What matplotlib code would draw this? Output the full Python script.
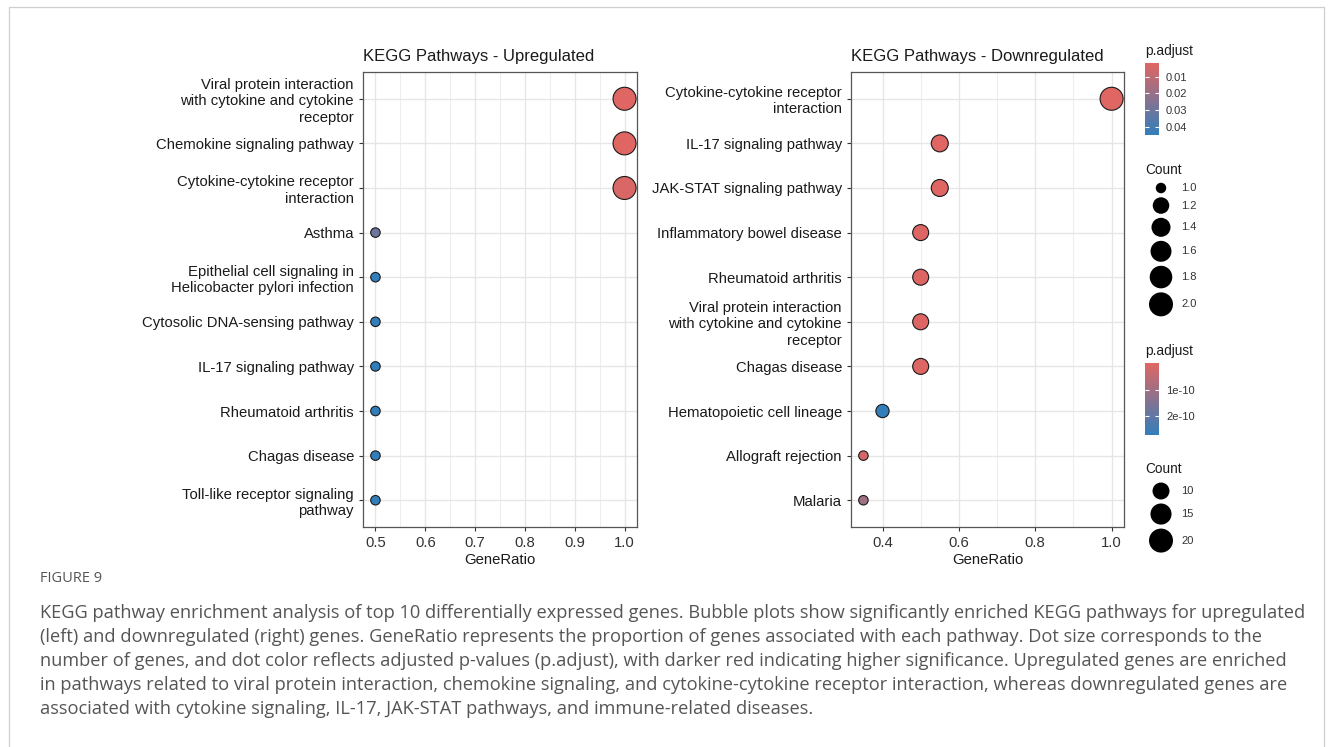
import matplotlib.pyplot as plt
import matplotlib.colors as mcolors
import matplotlib.cm as cm
import numpy as np

# Upregulated pathways (top to bottom)
up_terms = ["Viral protein interaction\nwith cytokine and cytokine\nreceptor",
            "Chemokine signaling pathway",
            "Cytokine-cytokine receptor\ninteraction",
            "Asthma",
            "Epithelial cell signaling in\nHelicobacter pylori infection",
            "Cytosolic DNA-sensing pathway",
            "IL-17 signaling pathway",
            "Rheumatoid arthritis",
            "Chagas disease",
            "Toll-like receptor signaling\npathway"]
up_ratio = [1.0, 1.0, 1.0, 0.5, 0.5, 0.5, 0.5, 0.5, 0.5, 0.5]
up_count = [2, 2, 2, 1, 1, 1, 1, 1, 1, 1]
up_padj = [0.0018, 0.0018, 0.0035, 0.030, 0.045, 0.045, 0.045, 0.045, 0.045, 0.045]

# Downregulated pathways (top to bottom)
down_terms = ["Cytokine-cytokine receptor\ninteraction",
              "IL-17 signaling pathway",
              "JAK-STAT signaling pathway",
              "Inflammatory bowel disease",
              "Rheumatoid arthritis",
              "Viral protein interaction\nwith cytokine and cytokine\nreceptor",
              "Chagas disease",
              "Hematopoietic cell lineage",
              "Allograft rejection",
              "Malaria"]
down_ratio = [1.0, 0.55, 0.55, 0.5, 0.5, 0.5, 0.5, 0.4, 0.35, 0.35]
down_count = [20, 11, 11, 10, 10, 10, 10, 8, 7, 7]
down_padj = [1e-13, 2e-12, 2e-12, 5e-12, 5e-12, 5e-12, 5e-12, 2.7e-10, 2e-11, 1.0e-10]

up_cbar_ticks = [0.01, 0.02, 0.03, 0.04]
up_cbar_labels = ["0.01", "0.02", "0.03", "0.04"]
down_cbar_ticks = [1e-10, 2e-10]
down_cbar_labels = ["1e-10", "2e-10"]
up_count_keys = [1.0, 1.2, 1.4, 1.6, 1.8, 2.0]
down_count_keys = [10, 15, 20]

caption_head = "FIGURE 9"
caption_lines = [
    "KEGG pathway enrichment analysis of top 10 differentially expressed genes. Bubble plots show significantly enriched KEGG pathways for upregulated",
    "(left) and downregulated (right) genes. GeneRatio represents the proportion of genes associated with each pathway. Dot size corresponds to the",
    "number of genes, and dot color reflects adjusted p-values (p.adjust), with darker red indicating higher significance. Upregulated genes are enriched",
    "in pathways related to viral protein interaction, chemokine signaling, and cytokine-cytokine receptor interaction, whereas downregulated genes are",
    "associated with cytokine signaling, IL-17, JAK-STAT pathways, and immune-related diseases.",
]

W, H = 1333, 747
DPI = 100
PX = 72.0 / DPI  # points per pixel
FS = 10.7
plt.rcParams['font.family'] = ['Liberation Sans', 'DejaVu Sans']

cmap = mcolors.LinearSegmentedColormap.from_list("padj", ["#e06663", "#327eba"])


def diam_px(c, cmin, cmax):
    """dot diameter in pixels, ggplot-like area scale"""
    frac = (np.asarray(c, dtype=float) - cmin) / (cmax - cmin)
    return 9.5 + 13.5 * np.sqrt(frac)


def bubble_panel(ax, terms, ratio, count, padj, title, xlim, major, minor):
    n = len(terms)
    y = np.arange(n)[::-1]
    norm = mcolors.Normalize(vmin=min(padj), vmax=max(padj))
    d = diam_px(count, min(count), max(count))
    ax.scatter(ratio, y, s=(d * PX) ** 2, c=padj, cmap=cmap, norm=norm,
               edgecolors="#1a1a1a", linewidths=0.8, zorder=3)
    ax.set_xlim(*xlim)
    ax.set_ylim(-0.6, n - 0.4)
    ax.set_yticks(y)
    ax.set_yticklabels(terms, fontsize=FS, color="#1a1a1a", linespacing=1.2)
    ax.set_xticks(major)
    ax.set_xticklabels([f"{v:.1f}" for v in major], fontsize=FS, color="#333333")
    ax.set_xticks(minor, minor=True)
    ax.grid(True, which="major", color="#e6e6e6", lw=1.0, zorder=0)
    ax.grid(True, which="minor", axis="x", color="#eeeeee", lw=0.8, zorder=0)
    ax.tick_params(which="minor", length=0)
    ax.tick_params(which="major", length=3, color="#333333", width=0.8)
    for sp in ax.spines.values():
        sp.set_color("#555555")
        sp.set_linewidth(0.9)
    ax.set_xlabel("GeneRatio", fontsize=FS, color="#1a1a1a", labelpad=2)
    ax.set_title(title, loc="left", fontsize=12, color="#1a1a1a", pad=8)
    ax.set_axisbelow(True)
    return norm


fig = plt.figure(figsize=(W / DPI, H / DPI), dpi=DPI)


def fax(x0, y0, x1, y1):
    # axes from pixel box (top-left origin)
    return fig.add_axes([x0 / W, 1 - y1 / H, (x1 - x0) / W, (y1 - y0) / H])


ax1 = fax(363, 72, 637, 527)
ax2 = fax(851, 72, 1124, 527)

norm_up = bubble_panel(ax1, up_terms, up_ratio, up_count, up_padj,
                       "KEGG Pathways - Upregulated", (0.475, 1.025),
                       [0.5, 0.6, 0.7, 0.8, 0.9, 1.0],
                       [0.55, 0.65, 0.75, 0.85, 0.95])
norm_down = bubble_panel(ax2, down_terms, down_ratio, down_count, down_padj,
                         "KEGG Pathways - Downregulated", (0.3175, 1.0325),
                         [0.4, 0.6, 0.8, 1.0], [0.5, 0.7, 0.9])


def colorbar(y0, norm, ticks, labels):
    cax = fax(1145, y0, 1159, y0 + 72)
    cb = fig.colorbar(cm.ScalarMappable(norm=norm, cmap=cmap), cax=cax)
    cb.outline.set_visible(False)
    cax.invert_yaxis()
    cb.set_ticks(ticks)
    cb.set_ticklabels(labels)
    cax.tick_params(direction="in", length=3, width=0.8, colors="white",
                    left=True, right=True, labelsize=8, labelcolor="#333333", pad=5)


colorbar(63, norm_up, up_cbar_ticks, up_cbar_labels)
colorbar(363, norm_down, down_cbar_ticks, down_cbar_labels)

# overlay for legend keys, caption and frame (pixel coords)
ov = fig.add_axes([0, 0, 1, 1], zorder=-1)
ov.set_xlim(0, W)
ov.set_ylim(H, 0)
ov.axis("off")

for ty, tt in [(51, "p.adjust"), (351, "p.adjust"), (170, "Count"), (469, "Count")]:
    ov.text(1145, ty, tt, fontsize=9.8, color="#1a1a1a", va="center")


def size_legend(keys, cmin, cmax, y_first, fmt):
    d = diam_px(keys, cmin, cmax) + 1
    h = d + 4
    ys = [y_first]
    for i in range(1, len(keys)):
        ys.append(ys[-1] + (h[i - 1] + h[i]) / 2)
    ov.scatter([1161] * len(keys), ys, s=(d * PX) ** 2, color="black", lw=0)
    for k, yy in zip(keys, ys):
        ov.text(1181, yy, fmt(k), fontsize=8, color="#333333", va="center")


size_legend(up_count_keys, min(up_count), max(up_count), 188, lambda k: f"{k:.1f}")
size_legend(down_count_keys, min(down_count), max(down_count), 491, lambda k: f"{k:d}")

# caption
ov.text(40, 578, caption_head, fontsize=10.5, color="#555555", va="center",
        family=["Open Sans", "DejaVu Sans"])
for i, line in enumerate(caption_lines):
    ov.text(40, 613 + 24 * i, line, fontsize=13.15, color="#555555", va="center",
            family=["Open Sans", "DejaVu Sans"])

# page frame
ov.plot([9, 9, 1324, 1324], [H + 5, 7, 7, H + 5], color="#cfcfcf", lw=0.9, clip_on=False)

fig.savefig("out.png", dpi=DPI)
